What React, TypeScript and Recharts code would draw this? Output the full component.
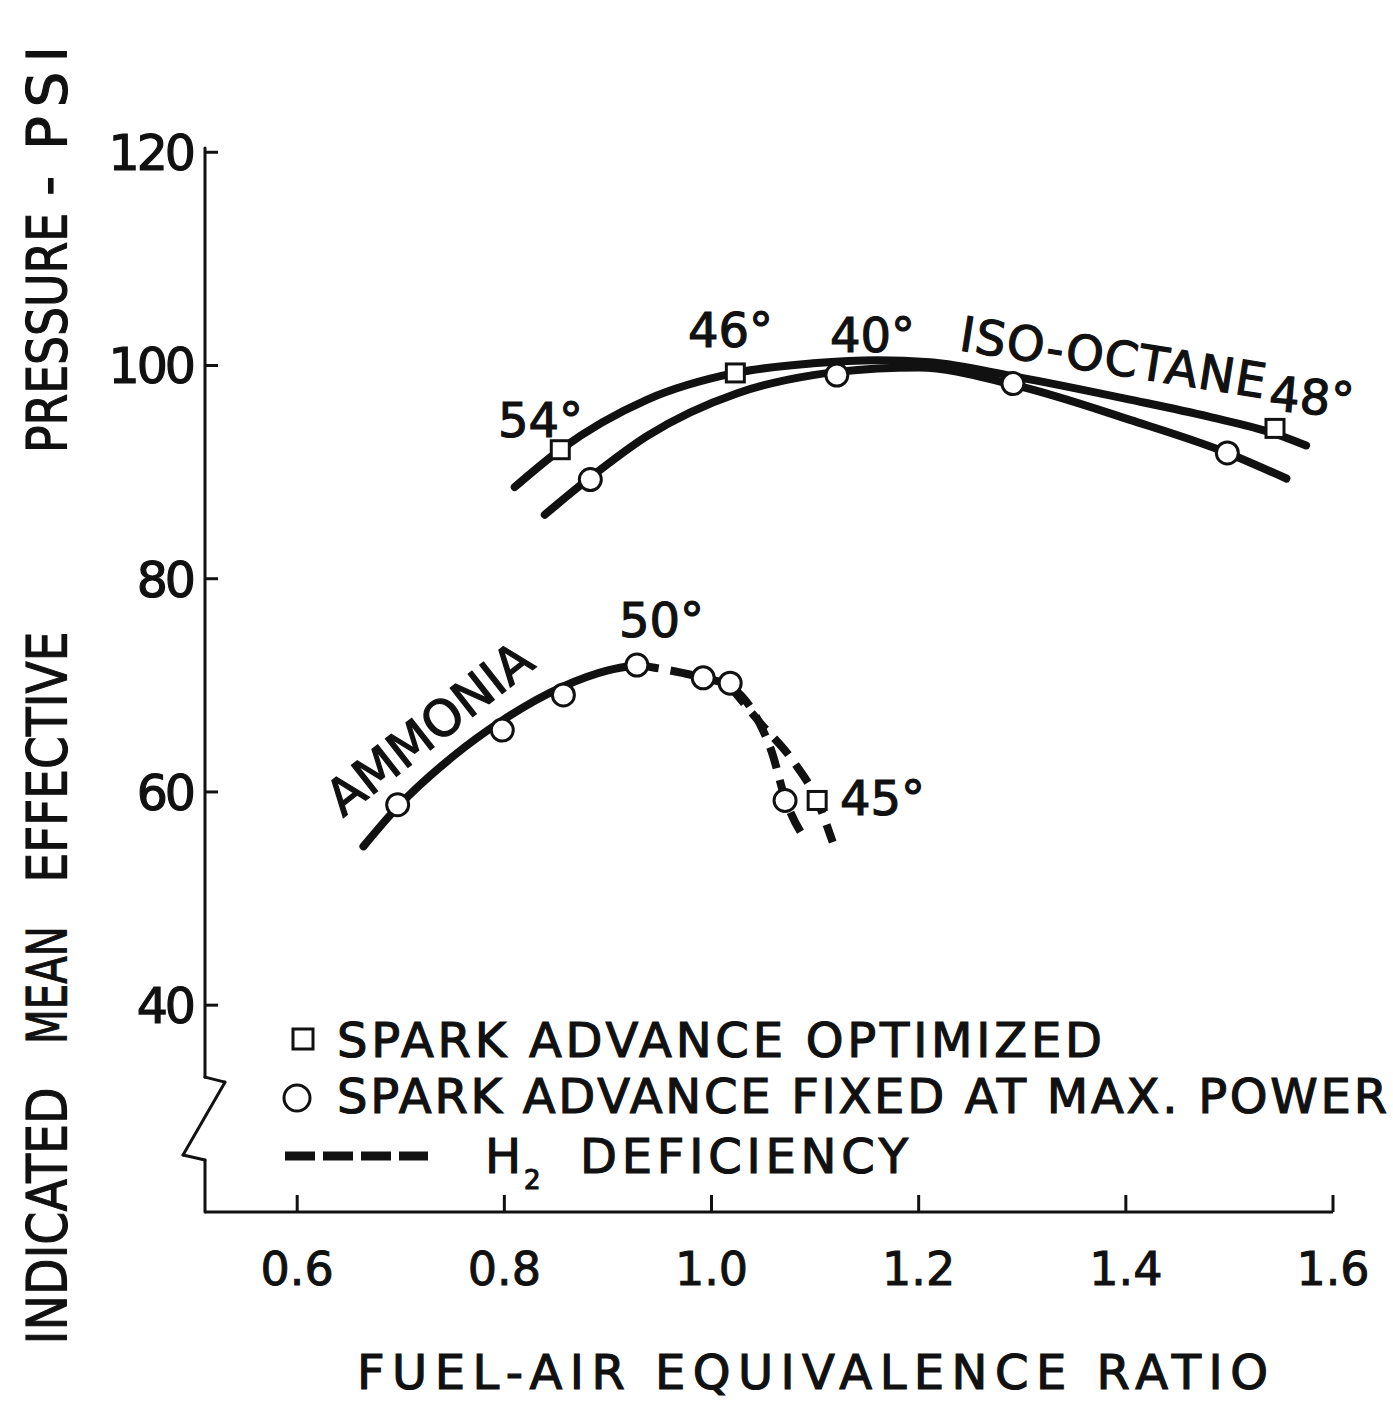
import React from "react";
import { ComposedChart, Line, ReferenceLine, Scatter, XAxis, YAxis } from "recharts";

const INK = "#111";
const FONT = "'DejaVu Sans', sans-serif";

// axis ticks
const xTicks = [0.6, 0.8, 1.0, 1.2, 1.4, 1.6];
const yTicks = [40, 60, 80, 100, 120];

// iso-octane, spark advance optimized (squares)
const isoOptCurve = [
  { x: 0.81, y: 88.6 },
  { x: 0.854, y: 92.1 },
  { x: 0.938, y: 96.8 },
  { x: 1.023, y: 99.3 },
  { x: 1.098, y: 100.2 },
  { x: 1.16, y: 100.5 },
  { x: 1.211, y: 100.3 },
  { x: 1.291, y: 99.0 },
  { x: 1.404, y: 96.8 },
  { x: 1.48, y: 95.2 },
  { x: 1.544, y: 93.6 },
  { x: 1.574, y: 92.5 },
];
const isoOptPoints = [
  { x: 0.854, y: 92.1 },
  { x: 1.023, y: 99.3 },
  { x: 1.544, y: 94.1 },
];

// iso-octane, spark advance fixed at max power (circles)
const isoFixedCurve = [
  { x: 0.839, y: 86.0 },
  { x: 0.883, y: 89.5 },
  { x: 0.938, y: 93.4 },
  { x: 1.025, y: 97.4 },
  { x: 1.098, y: 99.1 },
  { x: 1.121, y: 99.4 },
  { x: 1.2, y: 99.8 },
  { x: 1.291, y: 98.2 },
  { x: 1.404, y: 94.9 },
  { x: 1.498, y: 91.8 },
  { x: 1.555, y: 89.4 },
];
const isoFixedPoints = [
  { x: 0.883, y: 89.3 },
  { x: 1.121, y: 99.1 },
  { x: 1.291, y: 98.3 },
  { x: 1.498, y: 91.8 },
];

// ammonia, fixed spark advance
const ammoniaCurve = [
  { x: 0.664, y: 54.9 },
  { x: 0.697, y: 58.6 },
  { x: 0.75, y: 63.3 },
  { x: 0.798, y: 66.7 },
  { x: 0.857, y: 69.9 },
  { x: 0.9, y: 71.4 },
  { x: 0.928, y: 71.9 },
];
// ammonia, H2 deficiency (dashed)
const ammoniaH2Curve = [
  { x: 0.928, y: 71.9 },
  { x: 0.96, y: 71.4 },
  { x: 0.992, y: 70.7 },
  { x: 1.018, y: 69.9 },
  { x: 1.045, y: 66.7 },
  { x: 1.058, y: 63.8 },
  { x: 1.071, y: 59.4 },
  { x: 1.09, y: 55.6 },
];
const ammoniaOptH2Curve = [
  { x: 1.018, y: 69.9 },
  { x: 1.045, y: 66.7 },
  { x: 1.078, y: 63.0 },
  { x: 1.102, y: 59.2 },
  { x: 1.117, y: 55.3 },
];
const ammoniaFixedPoints = [
  { x: 0.697, y: 58.8 },
  { x: 0.798, y: 65.8 },
  { x: 0.857, y: 69.1 },
  { x: 0.928, y: 71.9 },
  { x: 0.992, y: 70.7 },
  { x: 1.018, y: 70.2 },
  { x: 1.071, y: 59.2 },
];
const ammoniaOptPoints = [{ x: 1.102, y: 59.2 }];

const X_MIN = 0.511;
const X_MAX = 1.6;
const Y_MIN = 20.6;
const Y_MAX = 120.4;

// broken y axis: top part, zigzag, bottom stub
const yAxisPath = [
  { x: X_MIN, y: Y_MAX },
  { x: X_MIN, y: 33.25 },
  { x: 0.5303, y: 32.78 },
  { x: 0.4898, y: 25.94 },
  { x: X_MIN, y: 25.47 },
  { x: X_MIN, y: Y_MIN },
];

const XTick = (props: any) => {
  const { x, y, payload } = props;
  return (
    <g>
      <line x1={x} x2={x} y1={y} y2={y - 17} stroke={INK} strokeWidth={3} />
      <text x={x} y={y + 73} textAnchor="middle" fontSize={46} fontFamily={FONT} fill={INK} stroke={INK} strokeWidth={1}>
        {Number(payload.value).toFixed(1)}
      </text>
    </g>
  );
};

const YTick = (props: any) => {
  const { x, y, payload } = props;
  return (
    <g>
      <line x1={x} x2={x + 13} y1={y} y2={y} stroke={INK} strokeWidth={3} />
      <text x={x - 12} y={y + 18} textAnchor="end" fontSize={49} letterSpacing={-3} fontFamily={FONT} fill={INK} stroke={INK} strokeWidth={1.2}>
        {payload.value}
      </text>
    </g>
  );
};

const CircleMark = (p: any) => (
  <circle cx={p.cx} cy={p.cy} r={11} fill="#fff" stroke={INK} strokeWidth={3} />
);
const SquareMark = (p: any) => (
  <rect x={p.cx - 9} y={p.cy - 9} width={18} height={18} fill="#fff" stroke={INK} strokeWidth={3} />
);

const txt = { fontFamily: FONT, fill: INK, stroke: INK, strokeWidth: 1.2 } as const;

const yTitleWords = [
  { w: "INDICATED", c: 1216, l: 257, adj: "spacingAndGlyphs" },
  { w: "MEAN", c: 985, l: 118, adj: "spacingAndGlyphs" },
  { w: "EFFECTIVE", c: 757, l: 251, adj: "spacingAndGlyphs" },
  { w: "PRESSURE", c: 333, l: 240, adj: "spacingAndGlyphs" },
  { w: "-", c: 186, l: 18, adj: "spacing" },
  { w: "PSI", c: 98, l: 104, adj: "spacing" },
];

function Overlay() {
  return (
    <svg
      width={1393}
      height={1403}
      style={{ position: "absolute", left: 0, top: 0, pointerEvents: "none" }}
    >
      {/* y title */}
      <g fontSize={56} {...txt}>
        {yTitleWords.map((t) => (
          <text
            key={t.w}
            transform={`translate(66 ${t.c}) rotate(-90)`}
            textAnchor="middle"
            textLength={t.l}
            lengthAdjust={t.adj as any}
          >
            {t.w}
          </text>
        ))}
      </g>

      {/* x title */}
      <text x={357} y={1389} fontSize={48} textLength={911} lengthAdjust="spacing" {...txt}>
        FUEL-AIR EQUIVALENCE RATIO
      </text>

      {/* curve annotations */}
      <g fontSize={48} {...txt}>
        <text x={498} y={437}>54°</text>
        <text x={688} y={347}>46°</text>
        <text x={830} y={352}>40°</text>
        <text x={619} y={637}>50°</text>
        <text x={840} y={815}>45°</text>
        <text transform="translate(1268 410) rotate(5)">48°</text>
        <text transform="translate(958 350) rotate(9)" textLength={309} lengthAdjust="spacing">
          ISO-OCTANE
        </text>
        <text transform="translate(343 818) rotate(-38)" fontSize={50} textLength={246} lengthAdjust="spacing">
          AMMONIA
        </text>
      </g>

      {/* legend */}
      <rect x={293} y={1029} width={20} height={20} fill="#fff" stroke={INK} strokeWidth={3} />
      <circle cx={297} cy={1098} r={13} fill="#fff" stroke={INK} strokeWidth={3} />
      <line x1={285} x2={428} y1={1156} y2={1156} stroke={INK} strokeWidth={9} strokeDasharray="30 8" />
      <g fontSize={48} {...txt}>
        <text x={337} y={1057} textLength={765} lengthAdjust="spacing">
          SPARK ADVANCE OPTIMIZED
        </text>
        <text x={337} y={1113} textLength={1050} lengthAdjust="spacing">
          SPARK ADVANCE FIXED AT MAX. POWER
        </text>
        <text x={485} y={1173}>H</text>
        <text x={524} y={1189} fontSize={26}>2</text>
        <text x={580} y={1173} textLength={328} lengthAdjust="spacing">
          DEFICIENCY
        </text>
      </g>
    </svg>
  );
}

export default function App() {
  const segs = yAxisPath.slice(1).map((p, i) => [yAxisPath[i], p]);
  return (
    <div style={{ position: "absolute", left: 0, top: 0, width: 1393, height: 1403, background: "#fff" }}>
      <ComposedChart
        width={1393}
        height={1403}
        margin={{ top: 148, right: 60, bottom: 111, left: 105 }}
      >
        <XAxis
          type="number"
          dataKey="x"
          domain={[X_MIN, X_MAX]}
          allowDataOverflow
          ticks={xTicks}
          height={80}
          tickSize={0}
          tickMargin={0}
          tick={XTick}
          axisLine={{ stroke: INK, strokeWidth: 3 }}
          tickLine={false}
        />
        <YAxis
          type="number"
          dataKey="y"
          domain={[Y_MIN, Y_MAX]}
          allowDataOverflow
          ticks={yTicks}
          width={100}
          tickSize={0}
          tickMargin={0}
          tick={YTick}
          axisLine={false}
          tickLine={false}
        />
        {segs.map(([a, b], i) => (
          <ReferenceLine
            key={i}
            segment={[a, b]}
            ifOverflow="visible"
            stroke={INK}
            strokeWidth={3}
            strokeLinecap="round"
          />
        ))}

        <Line data={isoOptCurve} dataKey="y" type="monotone" stroke={INK} strokeWidth={8} dot={false} strokeLinecap="round" isAnimationActive={false} />
        <Line data={isoFixedCurve} dataKey="y" type="monotone" stroke={INK} strokeWidth={8} dot={false} strokeLinecap="round" isAnimationActive={false} />
        <Line data={ammoniaCurve} dataKey="y" type="monotone" stroke={INK} strokeWidth={8} dot={false} strokeLinecap="round" isAnimationActive={false} />
        <Line data={ammoniaH2Curve} dataKey="y" type="monotone" stroke={INK} strokeWidth={8} strokeDasharray="22 12" dot={false} isAnimationActive={false} />
        <Line data={ammoniaOptH2Curve} dataKey="y" type="monotone" stroke={INK} strokeWidth={8} strokeDasharray="22 12" dot={false} isAnimationActive={false} />

        <Scatter data={isoOptPoints} dataKey="y" shape={SquareMark} isAnimationActive={false} />
        <Scatter data={isoFixedPoints} dataKey="y" shape={CircleMark} isAnimationActive={false} />
        <Scatter data={ammoniaFixedPoints} dataKey="y" shape={CircleMark} isAnimationActive={false} />
        <Scatter data={ammoniaOptPoints} dataKey="y" shape={SquareMark} isAnimationActive={false} />
      </ComposedChart>
      <Overlay />
    </div>
  );
}
